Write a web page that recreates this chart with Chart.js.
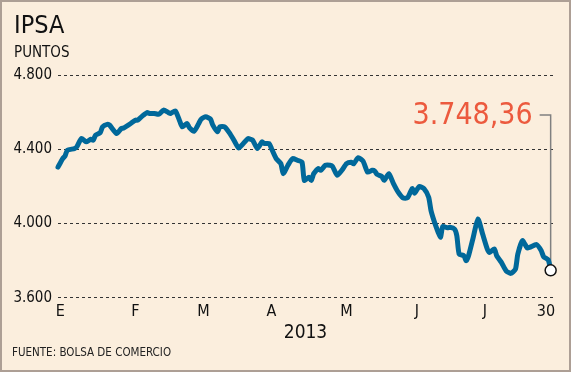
<!DOCTYPE html>
<html>
<head>
<meta charset="utf-8">
<script src="https://cdn.jsdelivr.net/npm/chart.js@4"></script>
<style>
  html, body { margin: 0; padding: 0; background: #fbeedd; }
  #wrap { width: 571px; height: 372px; }
</style>
</head>
<body>
<div id="wrap"><canvas id="ipsaChart" width="571" height="372"></canvas></div>
<script>
  // dias desde el 1 de enero de 2013
  const dias = [0, 2, 3, 4, 7, 8, 10, 12, 14, 15, 16, 18, 19, 21, 22, 25, 27, 28, 31, 33,
    34, 36, 38, 39, 41, 43, 45, 47, 48, 50, 52, 53, 55, 56, 58, 60, 61, 63, 65, 66,
    68, 69, 71, 73, 75, 77, 79, 81, 82, 83, 85, 87, 88, 90, 91, 93, 95, 96, 98, 100,
    102, 104, 105, 107, 108, 109, 111, 112, 114, 116, 117, 119, 121, 123, 125, 126, 128, 130, 132, 134,
    135, 136, 138, 139, 141, 143, 145, 147, 149, 151, 152, 154, 156, 158, 159, 161, 163, 164, 166, 167,
    169, 170, 171, 173, 174, 175, 177, 179, 181, 183, 184, 186, 187, 189, 191, 193, 195, 196, 198, 200,
    201, 204, 206, 207, 209, 210];
  const puntos = [4304, 4350, 4364, 4395, 4404, 4413, 4458, 4440, 4454, 4449, 4476, 4490, 4521, 4534, 4530, 4485, 4512, 4515, 4539, 4557,
    4557, 4580, 4598, 4593, 4593, 4589, 4611, 4598, 4593, 4607, 4548, 4521, 4539, 4517, 4497, 4539, 4562, 4575, 4562, 4530,
    4494, 4521, 4521, 4490, 4449, 4407, 4431, 4458, 4454, 4449, 4404, 4440, 4431, 4431, 4404, 4350, 4323, 4269, 4314, 4350,
    4341, 4331, 4233, 4250, 4233, 4269, 4296, 4287, 4314, 4314, 4308, 4260, 4287, 4323, 4330, 4322, 4355, 4337, 4277, 4287,
    4283, 4265, 4254, 4233, 4269, 4215, 4169, 4139, 4139, 4188, 4164, 4200, 4188, 4142, 4070, 3989, 3926, 3984, 3977, 3980,
    3971, 3935, 3836, 3827, 3800, 3827, 3926, 4025, 3944, 3863, 3845, 3863, 3827, 3791, 3746, 3732, 3755, 3836, 3908, 3869,
    3872, 3887, 3854, 3822, 3804, 3748.36];

  const etiquetasMes = ['E', 'F', 'M', 'A', 'M', 'J', 'J', '30'];
  const diasMes = [1, 33, 62, 91, 123, 153, 182, 208];
  const marcasY = [3600, 4000, 4400, 4800];

  const fuente = '"DejaVu Sans Condensed", "DejaVu Sans", sans-serif';
  const cierre = '3.748,36';

  const fondo = {
    id: 'fondo',
    beforeDraw(chart) {
      const c = chart.ctx;
      c.save();
      c.fillStyle = '#fbeedd';
      c.fillRect(0, 0, chart.width, chart.height);
      c.strokeStyle = '#ad9f95';
      c.lineWidth = 2;
      c.strokeRect(1, 1, chart.width - 2, chart.height - 2);
      c.restore();
    },
    beforeDatasetsDraw(chart) {
      // linea guia hacia el ultimo valor
      const c = chart.ctx;
      const meta = chart.getDatasetMeta(0);
      const ult = meta.data[meta.data.length - 1];
      const yEtq = chart.chartArea.top + 40;
      c.save();
      c.strokeStyle = '#808080';
      c.lineWidth = 1.5;
      c.beginPath();
      c.moveTo(ult.x - 11, yEtq);
      c.lineTo(ult.x, yEtq);
      c.lineTo(ult.x, ult.y);
      c.stroke();
      c.restore();
    },
    afterDraw(chart) {
      const c = chart.ctx;
      const meta = chart.getDatasetMeta(0);
      const ult = meta.data[meta.data.length - 1];
      c.save();
      c.fillStyle = '#ec5a3e';
      c.font = '30px ' + fuente;
      c.textAlign = 'right';
      c.textBaseline = 'middle';
      c.fillText(cierre, ult.x - 18, chart.chartArea.top + 41);
      c.fillStyle = '#222';
      c.font = '11.5px ' + fuente;
      c.textAlign = 'left';
      c.fillText('FUENTE: BOLSA DE COMERCIO', 12, 353);
      c.restore();
    }
  };

  const ultimo = puntos.length - 1;

  new Chart(document.getElementById('ipsaChart').getContext('2d'), {
    type: 'line',
    data: {
      labels: dias,
      datasets: [{
        label: 'IPSA',
        data: dias.map((d, i) => ({ x: d, y: puntos[i] })),
        borderColor: '#00689a',
        borderWidth: 5,
        tension: 0.2,
        clip: false,
        borderJoinStyle: 'round',
        borderCapStyle: 'round',
        pointRadius: ctx => ctx.dataIndex === ultimo ? 5.5 : 0,
        pointBackgroundColor: '#ffffff',
        pointBorderColor: '#111111',
        pointBorderWidth: 1.5
      }]
    },
    options: {
      responsive: false,
      animation: false,
      layout: { padding: { left: 14, right: 18, top: 0, bottom: 32 } },
      plugins: {
        legend: { display: false },
        tooltip: { enabled: false },
        title: {
          display: true,
          text: 'IPSA',
          align: 'start',
          color: '#111',
          font: { family: fuente, size: 25, weight: 'normal', lineHeight: 1.2 },
          padding: { top: 11, bottom: 0 }
        },
        subtitle: {
          display: true,
          text: 'PUNTOS',
          align: 'start',
          color: '#111',
          font: { family: fuente, size: 15, weight: 'normal', lineHeight: 1.2 },
          padding: { top: 3, bottom: 13 }
        }
      },
      scales: {
        x: {
          type: 'linear',
          min: 0,
          max: 211,
          grid: { display: false, drawTicks: false },
          border: { display: false },
          afterBuildTicks: axis => { axis.ticks = diasMes.map(v => ({ value: v })); },
          ticks: {
            autoSkip: false,
            maxRotation: 0,
            padding: 8,
            color: '#111',
            font: { family: fuente, size: 16, lineHeight: 0.8 },
            callback: (v, i) => etiquetasMes[i]
          },
          title: {
            display: true,
            text: '2013',
            color: '#111',
            font: { family: fuente, size: 19, lineHeight: 0.7 },
            padding: { top: 0, bottom: 0 }
          }
        },
        y: {
          min: 3600,
          max: 4800,
          afterFit: axis => { axis.width = 44; },
          afterBuildTicks: axis => { axis.ticks = marcasY.map(v => ({ value: v })); },
          grid: { color: '#333', lineWidth: 1, drawTicks: false },
          border: { display: false, dash: [3, 3] },
          ticks: {
            padding: 6,
            color: '#111',
            font: { family: fuente, size: 15 },
            callback: v => v.toLocaleString('de-DE')
          }
        }
      }
    },
    plugins: [fondo]
  });
</script>
</body>
</html>
